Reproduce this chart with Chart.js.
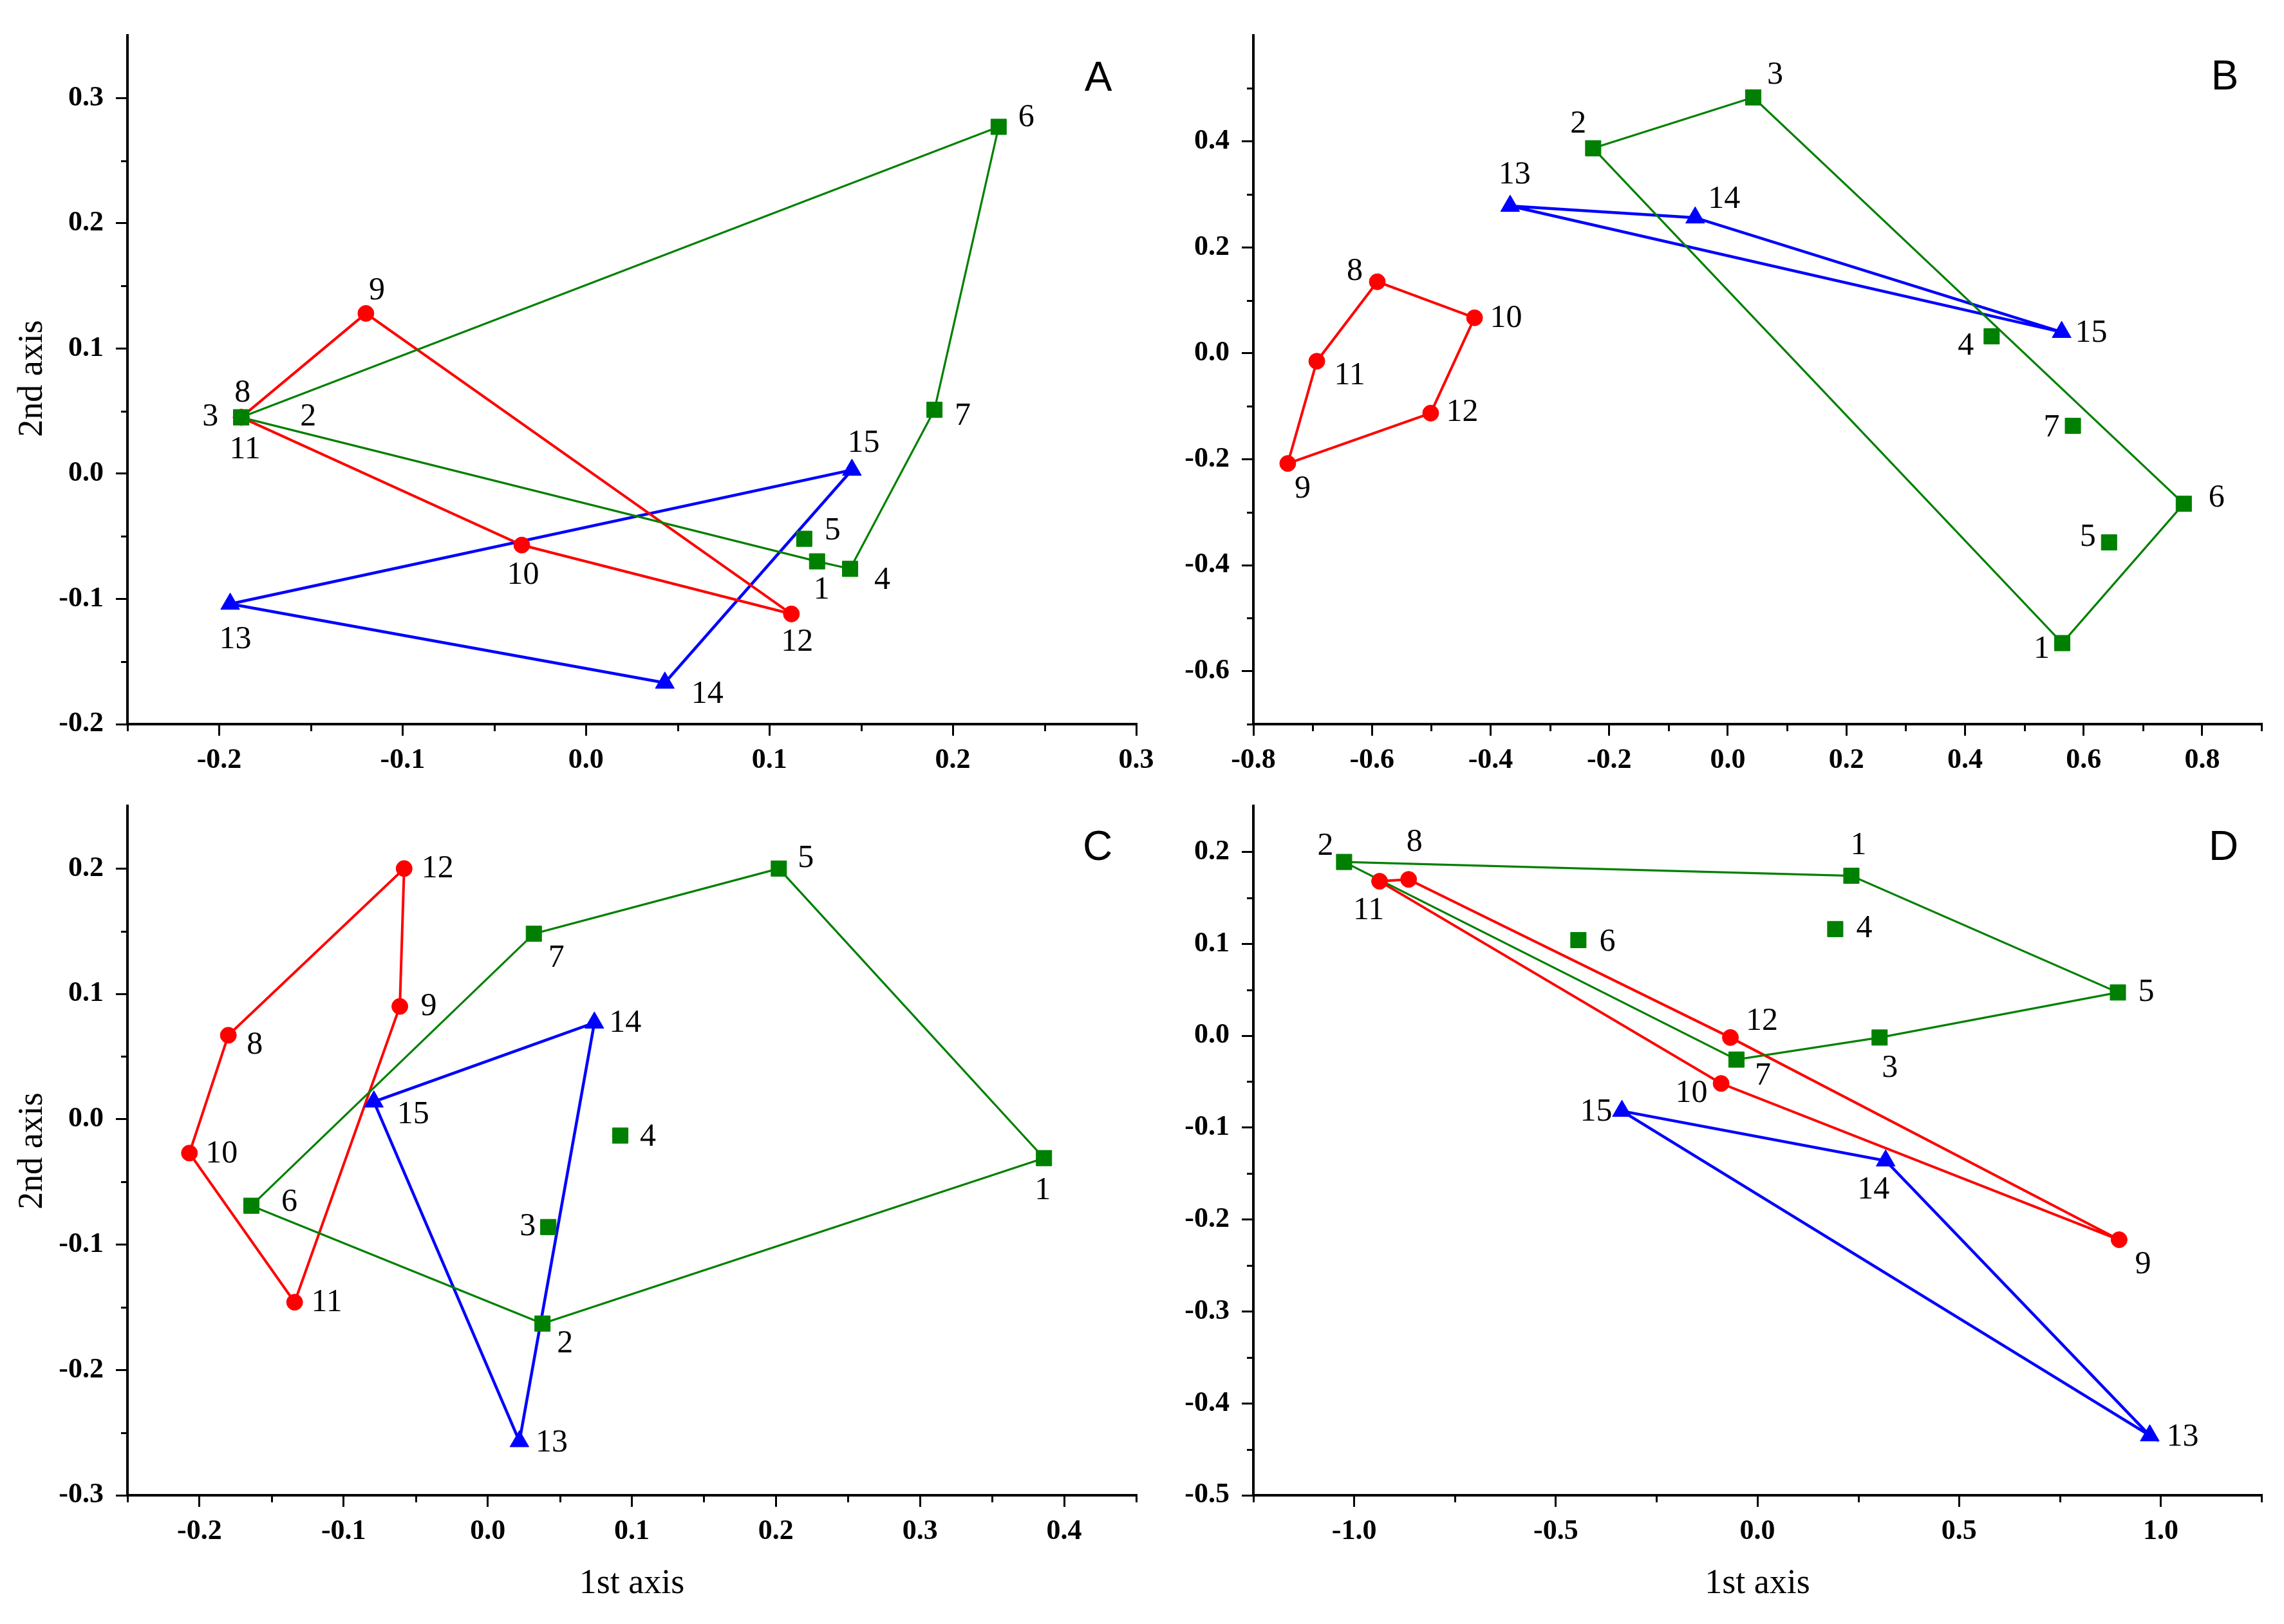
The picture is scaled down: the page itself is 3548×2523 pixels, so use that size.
<!DOCTYPE html>
<html>
<head>
<meta charset="utf-8">
<script src="https://cdn.jsdelivr.net/npm/chart.js@4.4.1/dist/chart.umd.min.js"></script>
<style>
html,body{margin:0;padding:0;background:#fff;}
#wrap{position:relative;width:3548px;height:2523px;background:#fff;overflow:hidden;}
canvas{position:absolute;}
</style>
</head>
<body>
<div id="wrap">
<canvas id="cA"></canvas>
<canvas id="cB"></canvas>
<canvas id="cC"></canvas>
<canvas id="cD"></canvas>
</div>
<script>
// ---------- DATA ----------
const greenIds = [1, 2, 3, 4, 5, 6, 7];
const redIds = [8, 9, 10, 11, 12];
const blueIds = [13, 14, 15];

// Panel A
const A_x = [0.126, -0.188, -0.188, 0.144, 0.119, 0.225, 0.190, -0.188, -0.120, -0.035, -0.188, 0.112, -0.194, 0.043, 0.145];
const A_y = [-0.070, 0.045, 0.045, -0.076, -0.052, 0.277, 0.051, 0.045, 0.128, -0.057, 0.045, -0.112, -0.104, -0.167, 0.003];
const A_hullGreen = [3, 6, 7, 4, 1, 3];
const A_hullRed = [8, 9, 12, 10, 8];
const A_hullBlue = [13, 15, 14, 13];
const A_xTicks = [-0.2, -0.1, 0.0, 0.1, 0.2, 0.3];
const A_yTicks = [-0.2, -0.1, 0.0, 0.1, 0.2, 0.3];

// Panel B
const B_x = [0.564, -0.227, 0.043, 0.445, 0.643, 0.769, 0.582, -0.591, -0.742, -0.427, -0.693, -0.501, -0.367, -0.055, 0.563];
const B_y = [-0.547, 0.387, 0.483, 0.032, -0.357, -0.284, -0.137, 0.135, -0.208, 0.067, -0.015, -0.113, 0.278, 0.256, 0.040];
const B_hullGreen = [2, 3, 6, 1, 2];
const B_hullRed = [8, 10, 12, 9, 11, 8];
const B_hullBlue = [13, 14, 15, 13];
const B_xTicks = [-0.8, -0.6, -0.4, -0.2, 0.0, 0.2, 0.4, 0.6, 0.8];
const B_yTicks = [-0.6, -0.4, -0.2, 0.0, 0.2, 0.4];

// Panel C
const C_x = [0.386, 0.038, 0.042, 0.092, 0.202, -0.164, 0.032, -0.180, -0.061, -0.207, -0.134, -0.058, 0.022, 0.074, -0.079];
const C_y = [-0.031, -0.163, -0.086, -0.013, 0.200, -0.069, 0.148, 0.067, 0.090, -0.027, -0.146, 0.200, -0.257, 0.077, 0.014];
const C_hullGreen = [6, 7, 5, 1, 2, 6];
const C_hullRed = [12, 9, 11, 10, 8, 12];
const C_hullBlue = [13, 14, 15, 13];
const C_xTicks = [-0.2, -0.1, 0.0, 0.1, 0.2, 0.3, 0.4];
const C_yTicks = [-0.3, -0.2, -0.1, 0.0, 0.1, 0.2];

// Panel D
const D_x = [0.233, -1.025, 0.303, 0.193, 0.894, -0.444, -0.052, -0.865, 0.897, -0.090, -0.937, -0.067, 0.973, 0.318, -0.336];
const D_y = [0.174, 0.189, -0.002, 0.116, 0.047, 0.104, -0.026, 0.170, -0.222, -0.052, 0.168, -0.002, -0.435, -0.136, -0.082];
const D_hullGreen = [2, 1, 5, 3, 7, 2];
const D_hullRed = [11, 8, 12, 9, 10, 11];
const D_hullBlue = [15, 14, 13, 15];
const D_xTicks = [-1.0, -0.5, 0.0, 0.5, 1.0];
const D_yTicks = [-0.5, -0.4, -0.3, -0.2, -0.1, 0.0, 0.1, 0.2];

const xTitleText = '1st axis';
const yTitleText = '2nd axis';

// ---------- LABEL OFFSETS (layout only, px) ----------
const A_lab = [[7,45],[104,0],[-48,0],[50,18],[44,-12],[43,-14],[44,10],[2,-37],[17,-35],[2,47],[6,51],[9,44],[8,56],[66,18],[18,-41]];
const B_lab = [[-32,10],[-23,-37],[34,-34],[-40,15],[-33,-8],[51,-9],[-33,3],[-35,-16],[23,40],[49,1],[51,23],[49,-1],[7,-48],[45,-28],[46,2]];
const C_lab = [[-2,51],[35,32],[-32,0],[43,3],[42,-15],[59,-5],[35,38],[41,16],[45,0],[50,1],[50,1],[52,1],[50,3],[48,1],[61,20]];
const D_lab = [[11,-47],[-29,-24],[16,48],[45,0],[44,0],[45,3],[41,26],[9,-57],[37,39],[-46,16],[-17,46],[49,-25],[51,3],[-19,46],[-40,2]];

const GREEN = '#008000', RED = '#ff0000', BLUE = '#0000ff';
const SERIF = '"Liberation Serif", "Times New Roman", serif';
const SANS = '"Liberation Sans", Arial, sans-serif';

const panels = [
  {id:'cA', left:0, top:0, w:1840, h:1230, area:{l:198,t:55,r:1765,b:1125},
   x:A_x, y:A_y, hg:A_hullGreen, hr:A_hullRed, hb:A_hullBlue, xt:A_xTicks, yt:A_yTicks,
   xmin:-0.25, xmax:0.3, ymin:-0.2, ymax:0.35, xminor:0.05, yminor:0.05,
   lab:A_lab, letter:'A', letterPos:[1706,123], yTitle:true, xTitle:false},
  {id:'cB', left:1774, top:0, w:1774, h:1230, area:{l:173,t:55,r:1739,b:1125},
   x:B_x, y:B_y, hg:B_hullGreen, hr:B_hullRed, hb:B_hullBlue, xt:B_xTicks, yt:B_yTicks,
   xmin:-0.8, xmax:0.9, ymin:-0.7, ymax:0.6, xminor:0.1, yminor:0.1,
   lab:B_lab, letter:'B', letterPos:[1682,121], yTitle:false, xTitle:false},
  {id:'cC', left:0, top:1200, w:1840, h:1323, area:{l:198,t:52,r:1765,b:1123},
   x:C_x, y:C_y, hg:C_hullGreen, hr:C_hullRed, hb:C_hullBlue, xt:C_xTicks, yt:C_yTicks,
   xmin:-0.25, xmax:0.45, ymin:-0.3, ymax:0.25, xminor:0.05, yminor:0.05,
   lab:C_lab, letter:'C', letterPos:[1705,118], yTitle:true, xTitle:true},
  {id:'cD', left:1774, top:1200, w:1774, h:1323, area:{l:173,t:52,r:1739,b:1123},
   x:D_x, y:D_y, hg:D_hullGreen, hr:D_hullRed, hb:D_hullBlue, xt:D_xTicks, yt:D_yTicks,
   xmin:-1.25, xmax:1.25, ymin:-0.5, ymax:0.25, xminor:0.25, yminor:0.05,
   lab:D_lab, letter:'D', letterPos:[1680,118], yTitle:false, xTitle:true}
];

function minorValues(min, max, step) {
  const out = [];
  const n = Math.round((max - min) / step);
  for (let k = 0; k <= n; k++) out.push(min + k * step);
  return out;
}

function makePanel(cfg) {
  const cv = document.getElementById(cfg.id);
  cv.width = cfg.w; cv.height = cfg.h;
  cv.style.left = cfg.left + 'px'; cv.style.top = cfg.top + 'px';
  cv.style.width = cfg.w + 'px'; cv.style.height = cfg.h + 'px';

  const pts = cfg.x.map((v, i) => ({x: v, y: cfg.y[i]}));
  const groups = [
    {ids: greenIds, color: GREEN, style: 'rect', r: 17, hull: cfg.hg, lw: 3.2},
    {ids: redIds, color: RED, style: 'circle', r: 12.5, hull: cfg.hr, lw: 4},
    {ids: blueIds, color: BLUE, style: 'triangle', r: 17, hull: cfg.hb, lw: 4.5}
  ];
  const datasets = [];
  groups.forEach(g => datasets.push({
    data: g.ids.map(id => pts[id - 1]), showLine: false,
    pointStyle: g.style, pointRadius: g.r, pointHoverRadius: g.r,
    pointBackgroundColor: g.color, pointBorderColor: g.color, pointBorderWidth: 1,
    backgroundColor: g.color, borderColor: g.color
  }));
  groups.forEach(g => datasets.push({
    data: g.hull.map(id => pts[id - 1]), showLine: true, fill: false, tension: 0,
    borderColor: g.color, borderWidth: g.lw, pointRadius: 0, pointHoverRadius: 0
  }));

  const tickFont = {family: SERIF, size: 44, weight: 'bold'};
  const commonGrid = {display: true, drawOnChartArea: false, drawTicks: true, tickLength: 18,
    tickWidth: 3, tickColor: '#000', color: '#000', lineWidth: 3};
  const border = {display: true, color: '#000', width: 4};

  const decor = {
    id: 'decor' + cfg.id,
    afterDatasetsDraw(chart) {
      const {ctx, scales} = chart;
      ctx.save();
      ctx.fillStyle = '#000';
      ctx.font = '50px ' + SERIF;
      ctx.textAlign = 'center';
      ctx.textBaseline = 'middle';
      pts.forEach((p, i) => {
        const px = scales.x.getPixelForValue(p.x) + cfg.lab[i][0];
        const py = scales.y.getPixelForValue(p.y) + cfg.lab[i][1];
        ctx.fillText(String(i + 1), px, py);
      });
      ctx.restore();
    },
    afterDraw(chart) {
      const {ctx, scales, chartArea} = chart;
      ctx.save();
      ctx.strokeStyle = '#000';
      ctx.lineWidth = 3;
      const isMajor = (v, arr) => arr.some(t => Math.abs(t - v) < 1e-9);
      minorValues(cfg.xmin, cfg.xmax, cfg.xminor).forEach(v => {
        if (isMajor(v, cfg.xt)) return;
        const px = Math.round(scales.x.getPixelForValue(v)) + 0.5;
        ctx.beginPath(); ctx.moveTo(px, chartArea.bottom); ctx.lineTo(px, chartArea.bottom + 11); ctx.stroke();
      });
      minorValues(cfg.ymin, cfg.ymax, cfg.yminor).forEach(v => {
        if (isMajor(v, cfg.yt)) return;
        if (Math.abs(v - cfg.ymax) < 1e-9) return;
        const py = Math.round(scales.y.getPixelForValue(v)) + 0.5;
        ctx.beginPath(); ctx.moveTo(chartArea.left, py); ctx.lineTo(chartArea.left - 10, py); ctx.stroke();
      });
      // panel letter
      ctx.fillStyle = '#000';
      ctx.font = '64px ' + SANS;
      ctx.textAlign = 'center';
      ctx.textBaseline = 'middle';
      ctx.fillText(cfg.letter, cfg.letterPos[0], cfg.letterPos[1]);
      // axis titles
      ctx.font = '54px ' + SERIF;
      if (cfg.yTitle) {
        ctx.save();
        ctx.translate(51, 588);
        ctx.rotate(-Math.PI / 2);
        ctx.fillText(yTitleText, 0, 0);
        ctx.restore();
      }
      if (cfg.xTitle) {
        ctx.fillText(xTitleText, (chartArea.left + chartArea.right) / 2, 1261);
      }
      ctx.restore();
    }
  };

  new Chart(cv, {
    type: 'scatter',
    data: {datasets},
    options: {
      responsive: false, animation: false, devicePixelRatio: 1, events: [],
      layout: {padding: {left: 0, top: cfg.area.t, right: cfg.w - cfg.area.r, bottom: 0}},
      plugins: {legend: {display: false}, tooltip: {enabled: false}, title: {display: false}},
      scales: {
        x: {
          type: 'linear', position: 'bottom', min: cfg.xmin, max: cfg.xmax,
          afterBuildTicks: s => { s.ticks = cfg.xt.map(v => ({value: v})); },
          afterFit: s => { s.height = cfg.h - cfg.area.b; s.paddingLeft = 0; s.paddingRight = 0; s.paddingTop = 0; s.paddingBottom = 0; },
          ticks: {callback: v => Number(v).toFixed(1), font: tickFont, color: '#000', padding: 12,
                  autoSkip: false, maxRotation: 0, minRotation: 0},
          grid: commonGrid, border: border
        },
        y: {
          type: 'linear', position: 'left', min: cfg.ymin, max: cfg.ymax,
          afterBuildTicks: s => { s.ticks = cfg.yt.map(v => ({value: v})); },
          afterFit: s => { s.width = cfg.area.l; s.paddingLeft = 0; s.paddingRight = 0; s.paddingTop = 0; s.paddingBottom = 0; },
          ticks: {callback: v => Number(v).toFixed(1), font: tickFont, color: '#000', padding: 19,
                  autoSkip: false},
          grid: commonGrid, border: border
        }
      }
    },
    plugins: [decor]
  });
}

panels.forEach(makePanel);
</script>
</body>
</html>
